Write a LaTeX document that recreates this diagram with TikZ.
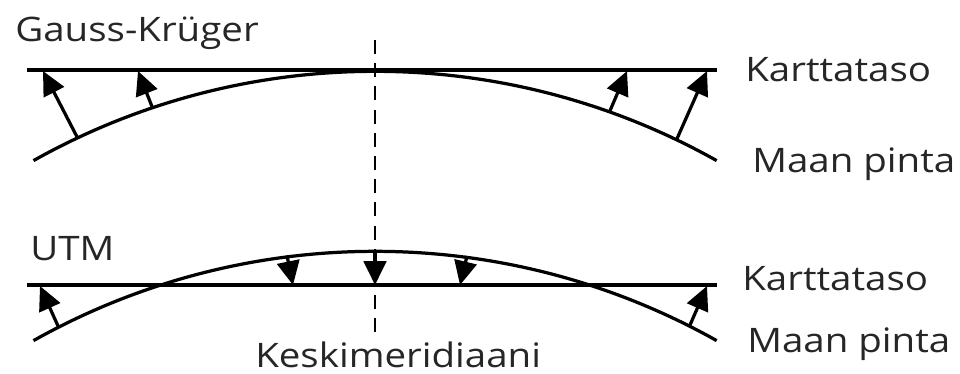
\documentclass[tikz,border=0pt]{standalone}
\usepackage{fontspec}
\setmainfont{Open Sans}
\usetikzlibrary{arrows.meta}
\newcommand{\wide}[1]{\scalebox{1.14}[1]{#1}}
\begin{document}
\begin{tikzpicture}[x=0.025cm,y=0.025cm,
  ln/.style={line width=2.3pt},
  arr/.style={line width=2.3pt,-{Triangle[length=17pt,width=16pt]}},
  lbl/.style={inner sep=0pt,anchor=base west,font=\fontsize{24}{28}\selectfont,text=black!85}]
\useasboundingbox (0,0) rectangle (960,-374);
% top
\coordinate (tl1) at (27,-70); \coordinate (tl2) at (717,-70);
\draw[ln] (tl1) -- (tl2);
\coordinate (tc1) at (33.5,-160.6);
\draw[ln] (tc1) arc[start angle=119.3,end angle=60.7,radius=698];
\coordinate (ta1s) at (77,-136.8); \coordinate (ta1e) at (43,-71);
\coordinate (ta2s) at (152,-106.6); \coordinate (ta2e) at (138,-71);
\coordinate (ta3s) at (610,-110.7); \coordinate (ta3e) at (627,-71);
\coordinate (ta4s) at (677,-138.7); \coordinate (ta4e) at (707,-71);
\draw[arr] (ta1s) -- (ta1e);
\draw[arr] (ta2s) -- (ta2e);
\draw[arr] (ta3s) -- (ta3e);
\draw[arr] (ta4s) -- (ta4e);
% bottom
\coordinate (bl1) at (27,-285); \coordinate (bl2) at (717,-285);
\draw[ln] (bl1) -- (bl2);
\coordinate (bc1) at (33.5,-340.6);
\draw[ln] (bc1) arc[start angle=119.3,end angle=60.7,radius=698];
\coordinate (ba1s) at (58,-326); \coordinate (ba1e) at (40,-286);
\coordinate (ba2s) at (287,-255.6); \coordinate (ba2e) at (293,-285);
\coordinate (ba3s) at (375,-250); \coordinate (ba3e) at (375,-285);
\coordinate (ba4s) at (467,-256); \coordinate (ba4e) at (460,-285);
\coordinate (ba5s) at (690,-325); \coordinate (ba5e) at (707,-286);
\draw[arr] (ba1s) -- (ba1e);
\draw[arr] (ba2s) -- (ba2e);
\draw[arr] (ba3s) -- (ba3e);
\draw[arr] (ba4s) -- (ba4e);
\draw[arr] (ba5s) -- (ba5e);
% meridian
\coordinate (m1) at (375,-40); \coordinate (m2) at (375,-337);
\draw[line width=1.8pt,dash pattern=on 10pt off 6.5pt] (m1) -- (m2);
% labels
\node[lbl] (gk) at (15,-42) {\wide{Gauss-Krüger}};
\node[lbl] (k1) at (745,-82) {\wide{Karttataso}};
\node[lbl] (p1) at (752,-172) {\wide{Maan pinta}};
\node[lbl] (utm) at (30,-260) {\wide{UTM}};
\node[lbl] (k2) at (742,-290) {\wide{Karttataso}};
\node[lbl] (p2) at (747,-352) {\wide{Maan pinta}};
\node[lbl] (km) at (255,-367) {\wide{Keskimeridiaani}};
\end{tikzpicture}
\end{document}
